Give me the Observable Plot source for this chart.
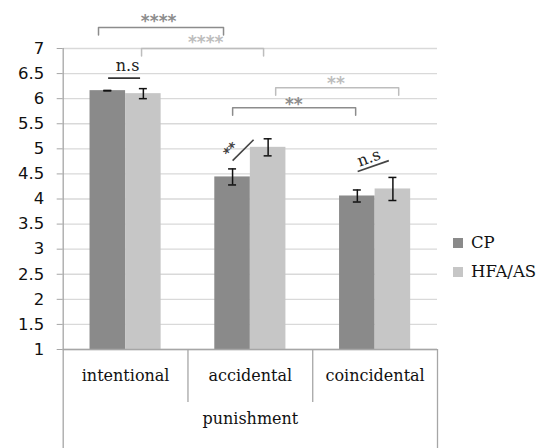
<!DOCTYPE html>
<html><head><meta charset="utf-8">
<script src="https://cdn.jsdelivr.net/npm/d3@7"></script>
<script src="https://cdn.jsdelivr.net/npm/@observablehq/plot@0.6"></script>
<style>
body{margin:0;background:#fff;}
#wrap{position:relative;width:547px;height:448px;overflow:hidden;background:#fff}
.leg{position:absolute;left:453px;font-family:"DejaVu Serif",serif;font-size:16.5px;color:#111;display:flex;align-items:center;line-height:20px;height:20px}
.sw{width:10px;height:10px;margin-right:8px}
</style></head><body><div id="wrap"></div>
<script>
// ---- data ----
const categories = ["intentional", "accidental", "coincidental"];
const groups = ["CP", "HFA/AS"];
const cpMeans = [6.16, 4.44, 4.06];
const cpErr = [0.005, 0.16, 0.12];
const hfaMeans = [6.10, 5.03, 4.20];
const hfaErr = [0.10, 0.17, 0.23];
const yTicks = [1, 1.5, 2, 2.5, 3, 3.5, 4, 4.5, 5, 5.5, 6, 6.5, 7];
const axisTitle = "punishment";
// significance brackets (x in category units, y in scale units)
const bracketX1 = [-0.217, 0.128, 1.203, 0.858];
const bracketX2 = [0.785, 1.106, 2.189, 1.844];
const bracketY = [7.42, 7.0, 6.22, 5.82];
const bracketLabel = ["****", "****", "**", "**"];
const bracketLabelX = [0.265, 0.642, 1.686, 1.348];
const bracketLabelY = [7.62, 7.2, 6.38, 5.96];
const bracketTone = ["dark", "light", "light", "dark"];

// ---- layout / style ----
const colors = {"CP": "#8a8a8a", "HFA/AS": "#c6c6c6"};
const toneColor = {dark: "#8c8c8c", light: "#bdbdbd"};
const bw = 0.285;     // bar width (category units)
const cap = 0.032;    // error cap half width
const drop = 0.15;
const serif = "DejaVu Serif";

const rows = [];
categories.forEach((c, i) => {
  rows.push({cat: c, group: "CP", x1: i - bw, x2: i, mean: cpMeans[i], err: cpErr[i]});
  rows.push({cat: c, group: "HFA/AS", x1: i, x2: i + bw, mean: hfaMeans[i], err: hfaErr[i]});
});
rows.forEach(r => r.xc = (r.x1 + r.x2) / 2);

const bracketPts = [];
bracketX1.forEach((x1, k) => {
  const x2 = bracketX2[k], y = bracketY[k];
  [[x1, y - drop], [x1, y], [x2, y], [x2, y - drop]].forEach(([x, yy]) =>
    bracketPts.push({id: k, x, y: yy, tone: bracketTone[k]}));
});
const bracketLabels = bracketLabel.map((t, k) => ({t, x: bracketLabelX[k], y: bracketLabelY[k], tone: bracketTone[k]}));

const yBottom = -0.98, yDivEnd = -0.056;

const chart = Plot.plot({
  width: 547, height: 448,
  marginLeft: 62.7, marginRight: 110, marginTop: 48, marginBottom: 99,
  x: {domain: [-0.5, 2.5], axis: null},
  y: {domain: [1, 7], axis: null},
  style: {background: "#fff", overflow: "visible"},
  marks: [
    Plot.ruleY(yTicks, {stroke: "#d9d9d9", strokeWidth: 1.3}),
    Plot.axisY({ticks: yTicks, tickSize: 6, tickPadding: 13, tickFormat: d => String(d),
      stroke: "#a6a6a6", fill: "#111", fontSize: 16.5, fontFamily: "DejaVu Sans", label: null}),
    Plot.rectY(rows, {x1: "x1", x2: "x2", y1: 1, y2: "mean", fill: d => colors[d.group]}),
    Plot.ruleX(rows, {x: "xc", y1: d => d.mean - d.err, y2: d => d.mean + d.err, stroke: "#111", strokeWidth: 1.5}),
    Plot.ruleY(rows, {y: d => d.mean - d.err, x1: d => d.xc - cap, x2: d => d.xc + cap, stroke: "#111", strokeWidth: 1.5}),
    Plot.ruleY(rows, {y: d => d.mean + d.err, x1: d => d.xc - cap, x2: d => d.xc + cap, stroke: "#111", strokeWidth: 1.5}),
    // category box
    Plot.ruleY([1], {stroke: "#a6a6a6", strokeWidth: 1.3}),
    Plot.ruleX([-0.5], {y1: 7, y2: yBottom, stroke: "#a6a6a6", strokeWidth: 1.3}),
    Plot.ruleX([2.5], {y1: 1, y2: yBottom, stroke: "#a6a6a6", strokeWidth: 1.3}),
    Plot.ruleX([0.5, 1.5], {y1: 1, y2: yDivEnd, stroke: "#a6a6a6", strokeWidth: 1.3}),
    Plot.text(categories, {x: (d, i) => i, frameAnchor: "bottom", dy: 31, text: d => d,
      fontFamily: serif, fontSize: 16, fill: "#111"}),
    Plot.text([axisTitle], {x: 1, frameAnchor: "bottom", dy: 74, text: d => d,
      fontFamily: serif, fontSize: 16, fill: "#111"}),
    // significance brackets
    Plot.line(bracketPts, {x: "x", y: "y", z: "id", stroke: d => toneColor[d.tone], strokeWidth: 1.5}),
    Plot.text(bracketLabels, {x: "x", y: "y", text: "t", dy: 4, fill: d => toneColor[d.tone],
      fontFamily: "DejaVu Sans", fontWeight: "bold", fontSize: 17}),
    // n.s for intentional
    Plot.ruleY([6.41], {x1: -0.136, x2: 0.12, stroke: "#333", strokeWidth: 1.6}),
    Plot.text(["n.s"], {x: 0.016, y: 6.65, text: d => d, fontFamily: serif, fontSize: 16, fill: "#222"}),
    // ** slash for accidental
    Plot.link([{x1: 0.858, y1: 4.765, x2: 1.026, y2: 5.18}], {x1: "x1", y1: "y1", x2: "x2", y2: "y2", stroke: "#444", strokeWidth: 1.6}),
    Plot.text(["**"], {x: 0.844, y: 5.06, text: d => d, rotate: -45, dy: 4, fontFamily: "DejaVu Sans", fontWeight: "bold", fontSize: 14, fill: "#444"}),
    // n.s for coincidental
    Plot.link([{x1: 1.86, y1: 4.546, x2: 2.11, y2: 4.765}], {x1: "x1", y1: "y1", x2: "x2", y2: "y2", stroke: "#444", strokeWidth: 1.6}),
    Plot.text(["n.s"], {x: 1.95, y: 4.82, text: d => d, rotate: -20, fontFamily: serif, fontSize: 16, fill: "#222"})
  ]
});
const wrap = document.getElementById("wrap");
wrap.appendChild(chart);
const legendTops = [233, 262];
groups.forEach((g, i) => {
  const row = document.createElement("div");
  row.className = "leg";
  row.style.top = legendTops[i] + "px";
  row.innerHTML = `<span class="sw" style="background:${colors[g]}"></span><span>${g}</span>`;
  wrap.appendChild(row);
});
</script></body></html>
